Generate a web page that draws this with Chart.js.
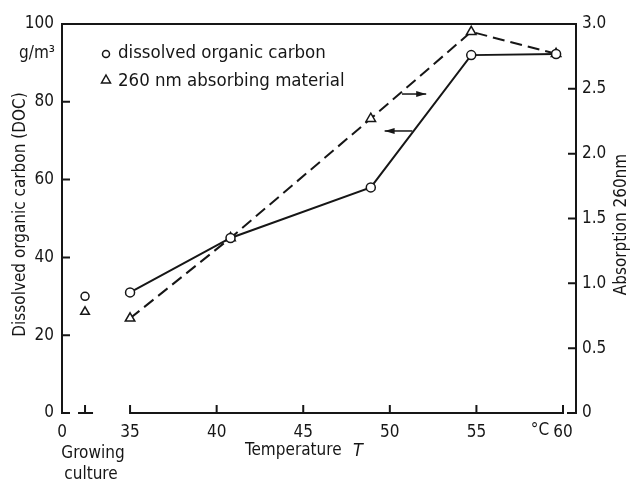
<!DOCTYPE html>
<html>
<head>
<meta charset="utf-8">
<script src="https://cdn.jsdelivr.net/npm/chart.js@4/dist/chart.umd.min.js"></script>
<style>
  body { margin: 0; background: #fff; }
</style>
</head>
<body>
<canvas id="graphique" width="632" height="482"></canvas>
<script>
// Données
const temperatures = [35, 40.8, 48.9, 54.7, 59.6];
const docValues = [31, 45, 58, 92, 92.3];
const absValues = [0.73, 1.35, 2.27, 2.94, 2.77];
const cultureDoc = [30];
const cultureAbs = [0.78];
const xTicks = [35, 40, 45, 50, 55, 60];
const leftTicks = [0, 20, 40, 60, 80, 100];
const rightTicks = [0, 0.5, 1.0, 1.5, 2.0, 2.5, 3.0];
const legendLabels = ["dissolved organic carbon", "260 nm absorbing material"];

// Axe x coupé : la "culture" est placée juste après le 0
const xMin = 31.07;
const xMax = 60.75;
const cultureX = 32.4;

const INK = "#161616";
const FONT = '"DejaVu Sans Condensed", "Liberation Sans Narrow", sans-serif';

Chart.defaults.font.family = FONT;
Chart.defaults.color = INK;

// Cadre, graduations intérieures, titres, légende et flèches
const decor = {
    id: "decor",
    beforeDatasetsDraw(chart) {
        const {ctx, chartArea: a, scales} = chart;
        const x = scales.x, yL = scales.yL, yR = scales.yR;
        const t = 7;
        ctx.save();
        ctx.strokeStyle = INK;
        ctx.lineWidth = 2;
        ctx.lineCap = "square";
        ctx.beginPath();
        // gauche + haut + droite
        ctx.moveTo(a.left, a.bottom);
        ctx.lineTo(a.left, a.top);
        ctx.lineTo(a.right, a.top);
        ctx.lineTo(a.right, a.bottom);
        ctx.lineTo(a.right - t - 1, a.bottom);
        // petit 0 à gauche
        ctx.moveTo(a.left, a.bottom);
        ctx.lineTo(a.left + t, a.bottom);
        // axe des températures
        const x35 = x.getPixelForValue(xTicks[0]);
        const x60 = x.getPixelForValue(xTicks[xTicks.length - 1]);
        ctx.moveTo(x35, a.bottom);
        ctx.lineTo(x60, a.bottom);
        for (const v of xTicks) {
            const px = x.getPixelForValue(v);
            ctx.moveTo(px, a.bottom);
            ctx.lineTo(px, a.bottom - t);
        }
        // repère de la culture
        const pc = x.getPixelForValue(cultureX);
        ctx.moveTo(pc - 6, a.bottom);
        ctx.lineTo(pc + 7, a.bottom);
        ctx.moveTo(pc, a.bottom);
        ctx.lineTo(pc, a.bottom - t);
        for (const v of leftTicks) {
            const py = yL.getPixelForValue(v);
            ctx.moveTo(a.left, py);
            ctx.lineTo(a.left + t, py);
        }
        for (const v of rightTicks) {
            const py = yR.getPixelForValue(v);
            ctx.moveTo(a.right, py);
            ctx.lineTo(a.right - t, py);
        }
        ctx.stroke();
        ctx.restore();
    },
    afterDraw(chart) {
        const {ctx, chartArea: a, scales} = chart;
        const x = scales.x, yL = scales.yL;
        const midY = (a.top + a.bottom) / 2;
        ctx.save();
        ctx.fillStyle = INK;
        ctx.strokeStyle = INK;

        // titres des axes
        ctx.font = "17px " + FONT;
        ctx.textAlign = "center";
        ctx.textBaseline = "middle";
        ctx.save();
        ctx.translate(21, midY - 4);
        ctx.rotate(-Math.PI / 2);
        ctx.fillText("Dissolved organic carbon (DOC)", 0, 0);
        ctx.restore();
        ctx.save();
        ctx.translate(622, midY + 6);
        ctx.rotate(-Math.PI / 2);
        ctx.fillText("Absorption 260nm", 0, 0);
        ctx.restore();

        // unité, °C, titre x
        ctx.font = "17px " + FONT;
        ctx.textAlign = "right";
        ctx.fillText("g/m³", a.left - 7, 54);
        ctx.textAlign = "center";
        ctx.fillText("°C", 540, 431);
        ctx.fillText("Growing", 93, 454);
        ctx.fillText("culture", 91, 475);
        ctx.textAlign = "left";
        ctx.fillText("Temperature", 245, 451);
        ctx.font = "italic 18px " + FONT;
        ctx.fillText("T", 353, 451);

        // légende
        ctx.font = "18.5px " + FONT;
        ctx.lineWidth = 1.5;
        ctx.fillStyle = INK;
        ctx.fillText(legendLabels[0], 118, 53);
        ctx.fillText(legendLabels[1], 118, 81);
        ctx.beginPath();
        ctx.arc(106, 54, 3.5, 0, Math.PI * 2);
        ctx.stroke();
        ctx.beginPath();
        ctx.moveTo(106, 75);
        ctx.lineTo(110.5, 83);
        ctx.lineTo(101.5, 83);
        ctx.closePath();
        ctx.stroke();

        // flèches indiquant l'axe de chaque courbe
        const arrows = [
            {from: 50.7, to: 52.1, y: 82},
            {from: 51.3, to: 49.7, y: 72.5},
        ];
        ctx.lineWidth = 1.5;
        for (const ar of arrows) {
            const x1 = x.getPixelForValue(ar.from);
            const x2 = x.getPixelForValue(ar.to);
            const py = yL.getPixelForValue(ar.y);
            const dir = Math.sign(x2 - x1);
            ctx.beginPath();
            ctx.moveTo(x1, py);
            ctx.lineTo(x2, py);
            ctx.stroke();
            ctx.beginPath();
            ctx.moveTo(x2, py);
            ctx.lineTo(x2 - dir * 10, py - 3);
            ctx.lineTo(x2 - dir * 10, py + 3);
            ctx.closePath();
            ctx.fill();
        }
        ctx.restore();
    },
};

const pointsDoc = temperatures.map((t, i) => ({x: t, y: docValues[i]}));
const pointsAbs = temperatures.map((t, i) => ({x: t, y: absValues[i]}));

const config = {
    type: "line",
    data: {
        datasets: [
            {
                label: legendLabels[0],
                data: pointsDoc,
                yAxisID: "yL",
                borderColor: INK,
                borderWidth: 2,
                pointStyle: "circle",
                pointRadius: 4.5,
                pointBorderWidth: 1.5,
                pointBackgroundColor: "#fff",
                pointBorderColor: INK,
            },
            {
                label: legendLabels[1],
                data: pointsAbs,
                yAxisID: "yR",
                borderColor: INK,
                borderWidth: 2,
                borderDash: [12, 6],
                pointStyle: "triangle",
                pointRadius: 5.5,
                pointBorderWidth: 1.5,
                pointBackgroundColor: "#fff",
                pointBorderColor: INK,
            },
            {
                data: [{x: cultureX, y: cultureDoc[0]}],
                yAxisID: "yL",
                showLine: false,
                pointStyle: "circle",
                pointRadius: 4,
                pointBorderWidth: 1.5,
                pointBackgroundColor: "#fff",
                pointBorderColor: INK,
            },
            {
                data: [{x: cultureX, y: cultureAbs[0]}],
                yAxisID: "yR",
                showLine: false,
                pointStyle: "triangle",
                pointRadius: 5,
                pointBorderWidth: 1.5,
                pointBackgroundColor: "#fff",
                pointBorderColor: INK,
            },
        ],
    },
    options: {
        responsive: false,
        animation: false,
        layout: {padding: {top: 24, left: 0, right: 0, bottom: 0}},
        plugins: {
            legend: {display: false},
            tooltip: {enabled: false},
        },
        scales: {
            x: {
                type: "linear",
                min: xMin,
                max: xMax,
                grid: {display: false, drawTicks: false},
                border: {display: false},
                afterBuildTicks: scale => {
                    scale.ticks = [xMin, ...xTicks].map(v => ({value: v}));
                },
                afterFit: scale => { scale.height = 69; },
                ticks: {
                    padding: 9,
                    font: {size: 17},
                    color: INK,
                    callback: v => (v === xMin ? "0" : String(v)),
                },
            },
            yL: {
                type: "linear",
                position: "left",
                min: 0,
                max: 100,
                grid: {display: false, drawTicks: false},
                border: {display: false},
                afterBuildTicks: scale => {
                    scale.ticks = leftTicks.map(v => ({value: v}));
                },
                afterFit: scale => { scale.width = 62; },
                ticks: {padding: 8, font: {size: 17}, color: INK},
            },
            yR: {
                type: "linear",
                position: "right",
                min: 0,
                max: 3,
                grid: {display: false, drawTicks: false},
                border: {display: false},
                afterBuildTicks: scale => {
                    scale.ticks = rightTicks.map(v => ({value: v}));
                },
                afterFit: scale => { scale.width = 56; },
                ticks: {
                    padding: 6,
                    font: {size: 17},
                    color: INK,
                    callback: v => (v === 0 ? "0" : v.toFixed(1)),
                },
            },
        },
    },
    plugins: [decor],
};

// eslint-disable-next-line no-undef
const graphique = new Chart(document.querySelector("#graphique"), config);
</script>
</body>
</html>
